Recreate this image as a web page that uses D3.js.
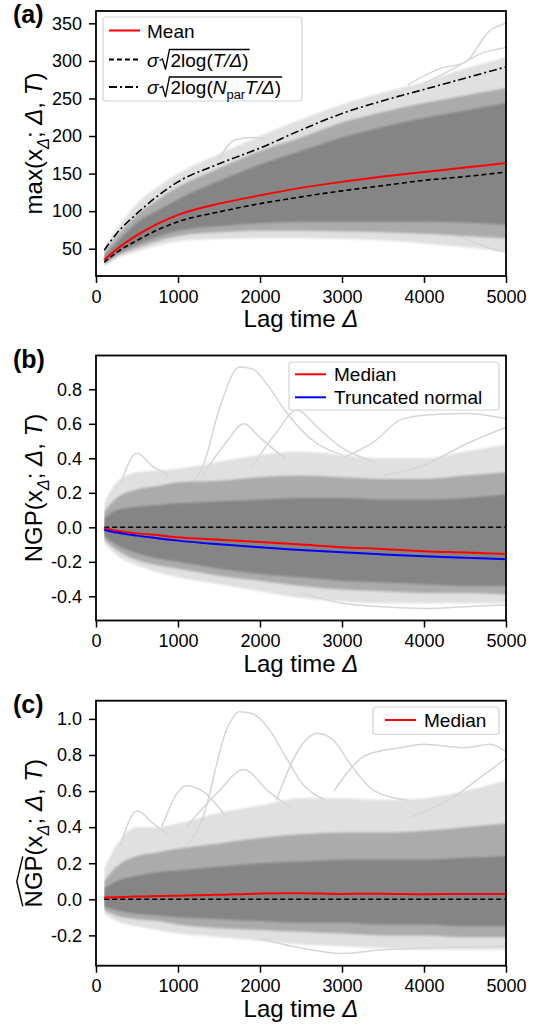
<!DOCTYPE html>
<html lang="en">
<head>
<meta charset="utf-8">
<title>Lag time panels</title>
<script src="https://d3js.org/d3.v7.min.js"></script>
<style>
  body { margin: 0; background: #fff; }
  svg { display: block; }
  text { font-family: "Liberation Sans", Arial, Helvetica, sans-serif; fill: #000; }
</style>
</head>
<body>
<svg id="fig" width="543" height="1024"></svg>
<script>
const lag = [100, 250, 500, 750, 1000, 1500, 2000, 2500, 3000, 3500, 4000, 4500, 5000];
const xTicks = [0, 1000, 2000, 3000, 4000, 5000];

// (a) max displacement
const maxMean    = [35, 49, 68, 83, 95, 110, 121, 131, 139, 146, 152, 158, 164];
const maxTheory  = [32, 45, 61, 75, 86, 99, 110, 119, 127, 134, 141, 146, 152];
const maxTheoryN = [48, 70, 97, 120, 139, 163, 184, 208, 230, 247, 262, 277, 292];
const maxLightHi = [52, 76, 110, 132, 150, 176, 200, 222, 242, 258, 272, 290, 305];
const maxMidHi   = [45, 66, 95, 115, 132, 157, 180, 198, 218, 232, 244, 254, 264];
const maxCoreHi  = [40, 58, 85, 101, 116, 140, 162, 180, 198, 212, 224, 234, 244];
const maxCoreLo  = [31, 43, 56, 66, 74, 80, 84, 86, 86, 86, 86, 85, 82];
const maxMidLo   = [29, 40, 51, 60, 67, 72, 74, 74, 73, 72, 70, 67, 64];
const maxLightLo = [27, 37, 46, 54, 60, 63, 64, 64, 63, 61, 57, 52, 46];
const maxTraces = [
  [[3800, 268], [4200, 290], [4500, 298], [4800, 340], [5000, 350]],
  [[4000, 270], [4400, 292], [4700, 310], [5000, 318]],
  [[1500, 170], [1700, 195], [1900, 198], [2100, 195]],
  [[4000, 75], [4400, 68], [4700, 55], [4900, 48], [5000, 46]]
];

// (b) NGP
const ngpMedian  = [-0.005, -0.02, -0.035, -0.045, -0.058, -0.072, -0.085, -0.1, -0.115, -0.125, -0.138, -0.146, -0.155];
const ngpTrunc   = [-0.015, -0.03, -0.048, -0.063, -0.077, -0.098, -0.116, -0.131, -0.145, -0.157, -0.168, -0.177, -0.185];
const ngpLightHi = [0.14, 0.26, 0.32, 0.33, 0.34, 0.38, 0.42, 0.44, 0.42, 0.4, 0.4, 0.44, 0.48];
const ngpMidHi   = [0.09, 0.17, 0.22, 0.24, 0.26, 0.27, 0.29, 0.3, 0.29, 0.28, 0.28, 0.3, 0.32];
const ngpCoreHi  = [0.05, 0.1, 0.12, 0.13, 0.14, 0.15, 0.16, 0.17, 0.17, 0.16, 0.16, 0.17, 0.19];
const ngpCoreLo  = [-0.05, -0.1, -0.15, -0.18, -0.2, -0.24, -0.27, -0.29, -0.31, -0.32, -0.33, -0.34, -0.34];
const ngpMidLo   = [-0.07, -0.13, -0.19, -0.22, -0.24, -0.28, -0.31, -0.34, -0.36, -0.37, -0.38, -0.38, -0.39];
const ngpLightLo = [-0.09, -0.16, -0.22, -0.26, -0.29, -0.33, -0.37, -0.41, -0.43, -0.44, -0.44, -0.44, -0.44];
const ngpTraces = [
  [[1000, 0.2], [1300, 0.35], [1500, 0.68], [1750, 0.93], [1900, 0.92], [2100, 0.82], [2300, 0.68], [2600, 0.52], [3000, 0.42]],
  [[1900, 0.35], [2200, 0.55], [2450, 0.68], [2700, 0.58], [3000, 0.46], [3400, 0.38]],
  [[3000, 0.4], [3400, 0.5], [3700, 0.62], [4000, 0.65], [4500, 0.66], [5000, 0.63]],
  [[1300, 0.3], [1600, 0.5], [1800, 0.6], [2000, 0.52], [2300, 0.4]],
  [[300, 0.25], [500, 0.43], [700, 0.35], [900, 0.3]],
  [[3500, 0.3], [4000, 0.36], [4500, 0.48], [5000, 0.58]],
  [[2500, -0.38], [3000, -0.44], [3500, -0.46], [4000, -0.47], [4500, -0.46], [5000, -0.45]]
];

// (c) corrected NGP
const hatMedian  = [0.01, 0.012, 0.015, 0.018, 0.02, 0.025, 0.032, 0.034, 0.03, 0.031, 0.028, 0.03, 0.03];
const hatLightHi = [0.17, 0.3, 0.4, 0.4, 0.42, 0.48, 0.52, 0.56, 0.56, 0.55, 0.56, 0.6, 0.66];
const hatMidHi   = [0.1, 0.18, 0.24, 0.26, 0.28, 0.31, 0.34, 0.36, 0.37, 0.37, 0.38, 0.4, 0.42];
const hatCoreHi  = [0.06, 0.1, 0.13, 0.15, 0.16, 0.18, 0.2, 0.21, 0.22, 0.22, 0.22, 0.23, 0.24];
const hatCoreLo  = [-0.04, -0.06, -0.08, -0.09, -0.1, -0.11, -0.12, -0.13, -0.13, -0.14, -0.14, -0.15, -0.15];
const hatMidLo   = [-0.06, -0.09, -0.11, -0.12, -0.14, -0.16, -0.17, -0.18, -0.19, -0.2, -0.2, -0.21, -0.21];
const hatLightLo = [-0.08, -0.12, -0.15, -0.17, -0.19, -0.21, -0.23, -0.25, -0.26, -0.27, -0.28, -0.28, -0.28];
const hatTraces = [
  [[1000, 0.25], [1300, 0.45], [1600, 0.95], [1750, 1.04], [1900, 1.03], [2100, 0.95], [2300, 0.8], [2500, 0.65], [2800, 0.55]],
  [[2200, 0.55], [2500, 0.85], [2700, 0.92], [2900, 0.88], [3100, 0.75], [3400, 0.6], [3800, 0.55]],
  [[2900, 0.6], [3300, 0.8], [3700, 0.84], [4000, 0.86], [4500, 0.84], [4800, 0.86], [5000, 0.82]],
  [[1100, 0.4], [1500, 0.6], [1800, 0.72], [2100, 0.6], [2400, 0.5]],
  [[800, 0.4], [1100, 0.63], [1300, 0.6], [1600, 0.45]],
  [[300, 0.3], [500, 0.49], [700, 0.42], [900, 0.35]],
  [[3800, 0.45], [4300, 0.55], [4700, 0.68], [5000, 0.78]],
  [[2000, -0.22], [2500, -0.27], [3000, -0.3], [3500, -0.28], [4000, -0.27], [5000, -0.26]]
];

const yTicksA = [50, 100, 150, 200, 250, 300, 350];
const yTicksB = [-0.4, -0.2, 0.0, 0.2, 0.4, 0.6, 0.8];
const yTicksC = [-0.2, 0.0, 0.2, 0.4, 0.6, 0.8, 1.0];

// ---- layout
const svg = d3.select("#fig");
const left = 96, right = 506, panelH = 265;
const x = d3.scaleLinear().domain([0, 5000]).range([left, right]);
const lightGray = "#e0e0e0", midGray = "#ababab", coreGray = "#858585";
const fontTick = 18, fontLabel = 24, fontLegend = 19;

svg.append("defs").append("filter").attr("id", "soft")
  .append("feGaussianBlur").attr("stdDeviation", 1.3);

// writes pieces of text one after the other, returns end x
function rich(g, x0, y0, parts, size) {
  let cx = x0;
  const pos = [];
  parts.forEach(p => {
    const fs = p.sub ? size * 0.68 : size;
    const t = g.append("text")
      .attr("x", cx).attr("y", y0 + (p.sub ? size * 0.28 : 0))
      .attr("font-size", fs)
      .attr("font-style", p.it ? "italic" : "normal")
      .style("white-space", "pre")
      .text(p.t);
    const w = t.node().getComputedTextLength();
    pos.push([cx, cx + w]);
    cx += w;
  });
  return { end: cx, pos: pos };
}

function yLabel(cx, cy, parts, size, hat) {
  const outer = svg.append("g").attr("transform", `translate(${cx},${cy}) rotate(-90)`);
  const inner = outer.append("g");
  const r = rich(inner, 0, 0, parts, size);
  inner.attr("transform", `translate(${-r.end / 2},0)`);
  if (hat) {
    const [a, b] = r.pos[0];
    const yb = -size * 0.8;
    inner.append("path")
      .attr("d", `M${a + 1},${yb} L${(a + b) / 2},${yb - 6} L${b - 1},${yb}`)
      .attr("fill", "none").attr("stroke", "#000").attr("stroke-width", 1.4);
  }
}

function drawPanel(p) {
  const y = d3.scaleLinear().domain(p.yDomain).range([p.top + panelH, p.top]);
  svg.append("clipPath").attr("id", "clip-" + p.id)
    .append("rect").attr("x", left).attr("y", p.top).attr("width", right - left).attr("height", panelH);
  svg.append("clipPath").attr("id", "band-" + p.id)
    .append("rect").attr("x", x(lag[0])).attr("y", p.top).attr("width", right - x(lag[0])).attr("height", panelH);
  const plot = svg.append("g").attr("clip-path", `url(#clip-${p.id})`);
  const bands = plot.append("g").attr("clip-path", `url(#band-${p.id})`);

  const area = (lo, hi) => d3.area()
    .x((d, i) => x(lag[i])).y0((d, i) => y(lo[i])).y1((d, i) => y(hi[i]))
    .curve(d3.curveMonotoneX)(lag);

  bands.append("path").attr("d", area(p.bands[0][0], p.bands[0][1])).attr("fill", lightGray).attr("filter", "url(#soft)");
  const tr = d3.line().x(d => x(d[0])).y(d => y(d[1])).curve(d3.curveMonotoneX);
  bands.append("g").selectAll("path").data(p.traces).join("path")
    .attr("d", tr).attr("fill", "none").attr("stroke", "#d6d6d6").attr("stroke-width", 1.5);
  bands.append("path").attr("d", area(p.bands[1][0], p.bands[1][1])).attr("fill", midGray).attr("filter", "url(#soft)");
  bands.append("path").attr("d", area(p.bands[2][0], p.bands[2][1])).attr("fill", coreGray).attr("filter", "url(#soft)");

  const line = d3.line().x((d, i) => x(lag[i])).y(d => y(d)).curve(d3.curveMonotoneX);
  p.lines.forEach(l => {
    plot.append("path").datum(l.data).attr("d", line)
      .attr("fill", "none").attr("stroke", l.color).attr("stroke-width", l.w || 2)
      .attr("stroke-dasharray", l.dash || null);
  });

  // axes
  const xa = svg.append("g").attr("transform", `translate(0,${p.top + panelH})`)
    .call(d3.axisBottom(x).tickValues(xTicks).tickSize(7).tickPadding(7).tickFormat(d3.format("d")));
  const ya = svg.append("g").attr("transform", `translate(${left},0)`)
    .call(d3.axisLeft(y).tickValues(p.yTicks).tickSize(7).tickPadding(7).tickFormat(p.fmt));
  [xa, ya].forEach(a => {
    a.select(".domain").remove();
    a.selectAll(".tick line").attr("stroke", "#000").attr("stroke-width", 1.5);
    a.selectAll(".tick text").attr("font-size", fontTick).attr("fill", "#000")
      .style("font-family", '"Liberation Sans", Arial, Helvetica, sans-serif');
  });
  svg.append("rect").attr("x", left).attr("y", p.top).attr("width", right - left).attr("height", panelH)
    .attr("fill", "none").attr("stroke", "#000").attr("stroke-width", 1.8);

  // x label
  const xl = svg.append("g");
  const r = rich(xl, 0, p.top + panelH + 51, [{ t: "Lag time " }, { t: "\u0394", it: true }], fontLabel);
  xl.attr("transform", `translate(${(left + right) / 2 - r.end / 2},0)`);

  // panel tag
  svg.append("text").attr("x", 13).attr("y", p.top + 12).attr("font-size", 25).attr("font-weight", "bold").text(p.tag);

  // legend
  const L = p.legend;
  svg.append("rect").attr("x", L.x).attr("y", L.y).attr("width", L.w).attr("height", L.h)
    .attr("rx", 3).attr("fill", "#fff").attr("fill-opacity", 0.85).attr("stroke", "#d4d4d4").attr("stroke-width", 1.2);
  L.rows.forEach(row => {
    svg.append("line").attr("x1", L.hx).attr("x2", L.hx + 31).attr("y1", row.y).attr("y2", row.y)
      .attr("stroke", row.color).attr("stroke-width", 2).attr("stroke-dasharray", row.dash || null);
    row.draw(L.tx, row.y + 7);
  });
  return y;
}

function plain(label) {
  return (x0, y0) => rich(svg.append("g"), x0, y0, [{ t: label }], fontLegend);
}

// radical legend entry: sigma sqrt(2log(...))
function radical(inside) {
  return (x0, y0) => {
    const g = svg.append("g");
    const s = rich(g, x0, y0, [{ t: "\u03c3", it: true }], fontLegend);
    const rx = s.end + 1;
    const r = rich(g, rx + 11, y0, inside, fontLegend);
    const top = y0 - 17;
    g.append("path")
      .attr("d", `M${rx},${y0 - 6} L${rx + 3},${y0 - 7.5} L${rx + 6},${y0 + 3} L${rx + 10},${top} L${r.end + 1},${top}`)
      .attr("fill", "none").attr("stroke", "#000").attr("stroke-width", 1.3);
  };
}

drawPanel({
  id: "a", tag: "(a)", top: 11, yDomain: [13.7, 366.4], yTicks: yTicksA, fmt: d3.format("d"),
  bands: [[maxLightLo, maxLightHi], [maxMidLo, maxMidHi], [maxCoreLo, maxCoreHi]],
  traces: maxTraces,
  lines: [
    { data: maxTheory, color: "#000", w: 1.6, dash: "5,3" },
    { data: maxTheoryN, color: "#000", w: 1.6, dash: "8,3,2,3" },
    { data: maxMean, color: "#ff0000", w: 2 }
  ],
  legend: {
    x: 103, y: 17, w: 199, h: 84, hx: 109, tx: 147,
    rows: [
      { y: 30.5, color: "#ff0000", draw: plain("Mean") },
      { y: 59.5, color: "#000", dash: "5,3", draw: radical([{ t: "2log(" }, { t: "T/\u0394", it: true }, { t: ")" }]) },
      { y: 87, color: "#000", dash: "8,3,2,3",
        draw: radical([{ t: "2log(" }, { t: "N", it: true }, { t: "par", sub: true }, { t: "T/\u0394", it: true }, { t: ")" }]) }
    ]
  }
});

drawPanel({
  id: "b", tag: "(b)", top: 355.5, yDomain: [-0.54, 0.996], yTicks: yTicksB, fmt: d => d.toFixed(1),
  bands: [[ngpLightLo, ngpLightHi], [ngpMidLo, ngpMidHi], [ngpCoreLo, ngpCoreHi]],
  traces: ngpTraces,
  lines: [
    { data: lag.map(() => 0), color: "#000", w: 1.5, dash: "5,3" },
    { data: ngpMedian, color: "#ff0000", w: 2 },
    { data: ngpTrunc, color: "#0000ff", w: 2 }
  ],
  legend: {
    x: 289, y: 362, w: 210, h: 48, hx: 295, tx: 334,
    rows: [
      { y: 374.3, color: "#ff0000", draw: plain("Median") },
      { y: 397.3, color: "#0000ff", draw: plain("Truncated normal") }
    ]
  }
});

drawPanel({
  id: "c", tag: "(c)", top: 700.7, yDomain: [-0.368, 1.101], yTicks: yTicksC, fmt: d => d.toFixed(1),
  bands: [[hatLightLo, hatLightHi], [hatMidLo, hatMidHi], [hatCoreLo, hatCoreHi]],
  traces: hatTraces,
  lines: [
    { data: lag.map(() => 0), color: "#000", w: 1.5, dash: "5,3" },
    { data: hatMedian, color: "#ff0000", w: 2 }
  ],
  legend: {
    x: 373, y: 707, w: 126, h: 27.5, hx: 385, tx: 424,
    rows: [
      { y: 720, color: "#ff0000", draw: plain("Median") }
    ]
  }
});

// y labels
const sub = [{ t: "x" }, { t: "\u0394", it: true, sub: true }, { t: "; " }, { t: "\u0394", it: true }, { t: ", " }, { t: "T", it: true }, { t: ")" }];
yLabel(42, 11 + panelH / 2, [{ t: "max(" }].concat(sub), fontLabel);
yLabel(42, 355.5 + panelH / 2, [{ t: "NGP(" }].concat(sub), fontLabel);
yLabel(42, 700.7 + panelH / 2, [{ t: "NGP" }, { t: "(" }].concat(sub), fontLabel, true);
</script>
</body>
</html>
